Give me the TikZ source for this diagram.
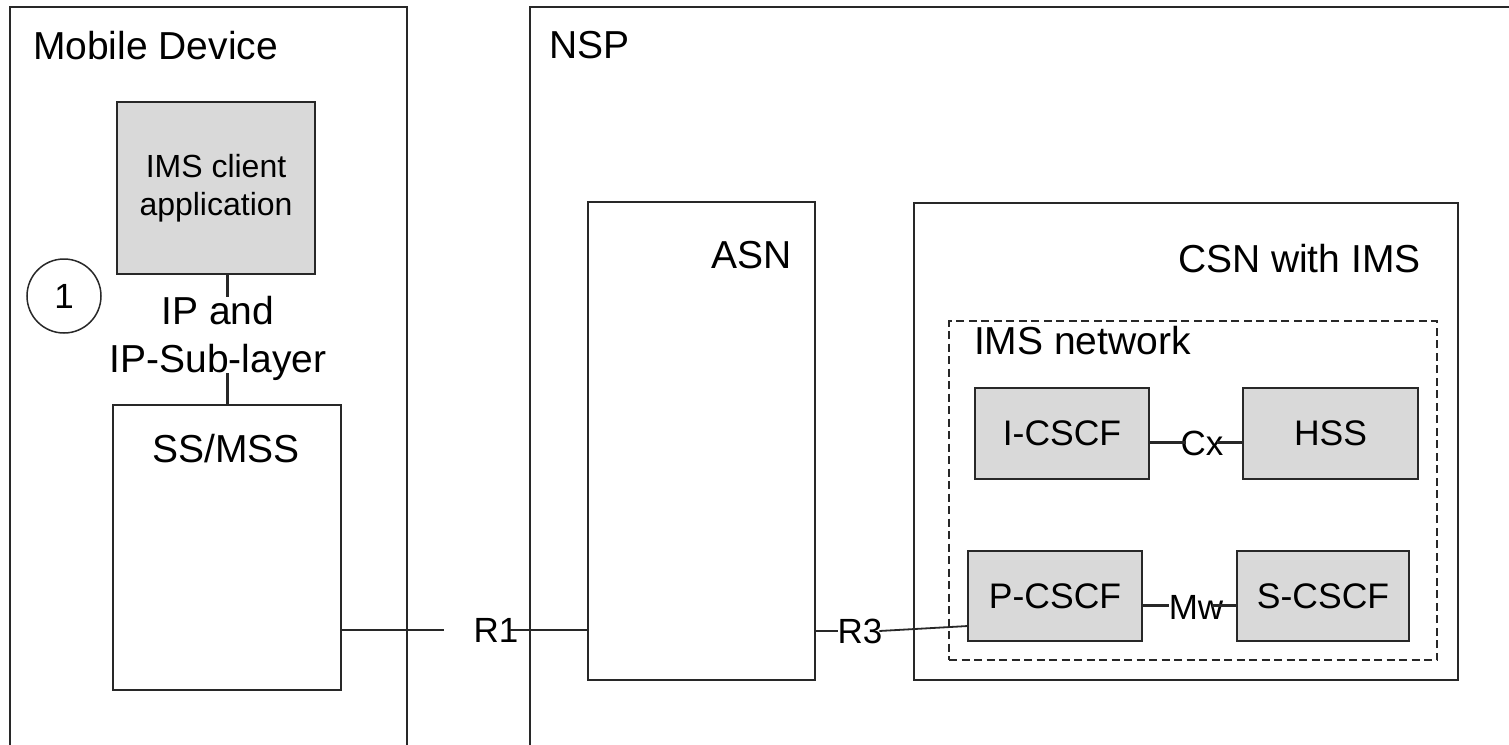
\documentclass[tikz,border=0pt]{standalone}
\usepackage{fontspec}
\setmainfont{Liberation Sans}
\usetikzlibrary{calc}
\definecolor{lc}{RGB}{40,40,40}
\definecolor{gfill}{RGB}{217,217,217}
\tikzset{
  box/.style={draw=lc, line width=1.6pt, rectangle, inner sep=0pt, outer sep=0pt},
  gbox/.style={box, fill=gfill, font=\fontsize{35.5}{42}\selectfont},
  biglabel/.style={inner sep=0pt, outer sep=0pt, font=\fontsize{39}{47}\selectfont},
  iflabel/.style={inner sep=0pt, outer sep=0pt, font=\fontsize{35}{42}\selectfont},
  conn/.style={draw=lc, line width=1.8pt},
  tconn/.style={draw=lc, line width=3pt},
}
\begin{document}
\begin{tikzpicture}[x=1pt, y=-1pt]
\useasboundingbox (0,0) rectangle (1509,744);
\begin{scope}
\clip (0,0) rectangle (1509,744);
\fill[white] (0,0) rectangle (1509,744);
% outer boxes
\node[box, minimum width=397pt, minimum height=753pt] (md) at (208.5,383.5) {};
\node[box, minimum width=1000pt, minimum height=753pt] (nsp) at (1030,383.5) {};
\node[biglabel, anchor=base west] (mdl) at (33,59) {Mobile Device};
\node[biglabel, anchor=base west] (nspl) at (549,58) {NSP};
% mobile device content
\node[box, fill=gfill, minimum width=198pt, minimum height=172pt, align=center,
      font=\fontsize{32}{38}\selectfont] (ims) at (216,188) {IMS client\\application};
\node[box, minimum width=228pt, minimum height=285pt] (ss) at (227,547.5) {};
\node[biglabel, anchor=base] (ssl) at (226,462.5) {SS/MSS};
\node[draw=lc, line width=1.5pt, circle, minimum size=74pt, inner sep=0pt,
      font=\fontsize{35}{42}\selectfont] (c1) at (64,296) {1};
\node[biglabel, anchor=base] (ip1) at (218,324) {IP and};
\node[biglabel, anchor=base] (ip2) at (218,372) {IP-Sub-layer};
\coordinate (ipt) at (227,297);
\coordinate (ipb) at (227,373);
\draw[tconn] (ims.south -| ipt) -- (ipt);
\draw[tconn] (ipb) -- (ss.north -| ipb);
% ASN
\node[box, minimum width=227pt, minimum height=478pt] (asn) at (701.5,441) {};
\node[biglabel, anchor=base west] (asnl) at (711,268) {ASN};
% CSN
\node[box, minimum width=544pt, minimum height=477pt] (csn) at (1186,441.5) {};
\node[biglabel, anchor=base west] (csnl) at (1178,272) {CSN with IMS};
\node[box, dashed, line width=1.4pt, dash pattern=on 8pt off 4.5pt, minimum width=488pt, minimum height=339pt] (imsnet) at (1193,490.5) {};
\node[biglabel, anchor=base west] (imsnetl) at (974,354) {IMS network};
\node[gbox, minimum width=174pt, minimum height=91pt] (icscf) at (1062,433.5) {I-CSCF};
\node[gbox, minimum width=175pt, minimum height=91pt] (hss) at (1330.5,433.5) {HSS};
\node[gbox, minimum width=174pt, minimum height=90pt] (pcscf) at (1055,596) {P-CSCF};
\node[gbox, minimum width=172pt, minimum height=90pt] (scscf) at (1323,596) {S-CSCF};
% interface labels
\node[iflabel] (r1) at (496,630) {R1};
\node[iflabel] (r3) at (860,631) {R3};
\node[iflabel] (cx) at (1202,443.5) {Cx};
\node[iflabel] (mw) at (1196,607) {Mw};
% connectors
\draw[conn] (ss.east |- r1) -- ([xshift=-29.5pt]r1.west);
\draw[conn] ([xshift=-8pt]r1.east) -- (asn.west |- r1);
\draw[conn] (asn.east |- r3) -- (r3.west);
\draw[conn] ([xshift=-3pt]r3.east) -- ([yshift=-30pt]pcscf.west);
\draw[tconn] ([yshift=-8.5pt]icscf.east) -- ([xshift=5pt,yshift=1.5pt]cx.west);
\draw[tconn] ([xshift=-6pt,yshift=1.5pt]cx.east) -- ([yshift=-8.5pt]hss.west);
\draw[tconn] ([yshift=-9pt]pcscf.east) -- ([yshift=2pt]mw.west);
\draw[tconn] ([xshift=-11pt,yshift=2pt]mw.east) -- ([yshift=-9pt]scscf.west);
\end{scope}
\end{tikzpicture}
\end{document}
